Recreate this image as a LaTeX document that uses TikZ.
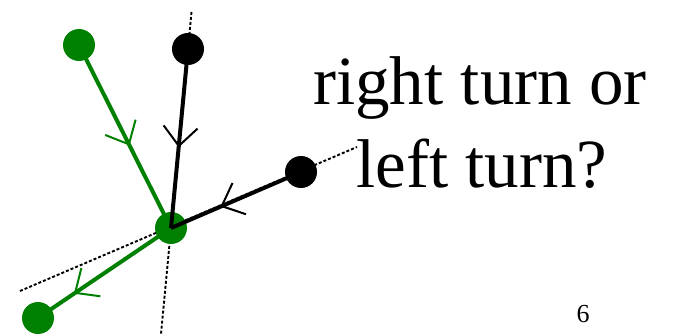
\documentclass[tikz,border=0pt]{standalone}
\usepackage{fontspec}
\setmainfont{Liberation Serif}
\usetikzlibrary{arrows.meta,decorations.markings}
\definecolor{dgreen}{RGB}{0,128,0}
\begin{document}
\begin{tikzpicture}[x=1pt,y=-1pt,
  dotnode/.style={circle,fill=#1,minimum size=32pt,inner sep=0pt},
  guide/.style={line width=1.9pt,dash pattern=on 3pt off 2pt,black},
  edgeline/.style 2 args={line width=4pt,draw=#1,
    decoration={markings,mark=at position #2 with {\arrow[line width=2pt,#1]{Straight Barb[length=19pt,width=34pt]}}},
    postaction={decorate}},
  label/.style={anchor=base,font=\fontsize{69}{83}\selectfont,inner sep=0pt}]
\useasboundingbox (0,0) rectangle (673,334);
% positions
\coordinate (pgt) at (79,45);
\coordinate (pbt) at (188,49);
\coordinate (pbr) at (301,172);
\coordinate (pc) at (171,228);
\coordinate (pgb) at (38,318);
\coordinate (vtop) at (191.5,12);
\coordinate (vbot) at (161,334);
\coordinate (hleft) at (20,291);
\coordinate (hright) at (357,147);
% dotted guide lines
\draw[guide] (vtop) -- (vbot);
\draw[guide] (hleft) -- (hright);
% dots
\node[dotnode=dgreen] (gt) at (pgt) {};
\node[dotnode=black] (bt) at (pbt) {};
\node[dotnode=black] (br) at (pbr) {};
\node[dotnode=dgreen] (c) at (pc) {};
\node[dotnode=dgreen] (gb) at (pgb) {};
% edges
\draw[edgeline={dgreen}{0.55}] (gt.center) -- (c.center);
\draw[edgeline={dgreen}{0.73}] (c.center) -- (gb.center);
\draw[edgeline={black}{0.55}] (bt.center) -- (c.center);
\draw[edgeline={black}{0.62}] (br.center) -- (c.center);
% text
\node[label] (t1) at (480,105) {right turn or};
\node[label] (t2) at (482,188) {left turn?};
\node[anchor=base,inner sep=0pt,font=\fontsize{26}{30}\selectfont] (pg) at (583,323) {6};
\end{tikzpicture}
\end{document}
